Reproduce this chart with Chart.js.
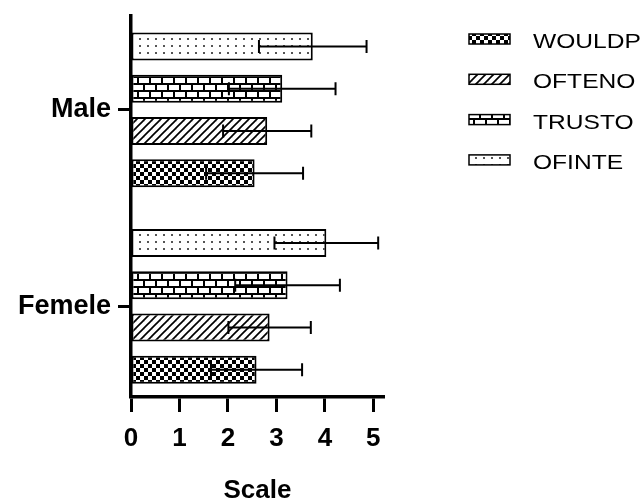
<!DOCTYPE html>
<html>
<head>
<meta charset="utf-8">
<script src="https://cdn.jsdelivr.net/npm/chart.js@4.4.0/dist/chart.umd.min.js"></script>
<style>
  html, body { margin: 0; padding: 0; background: #fff; }
</style>
</head>
<body>
<canvas id="barCanvas" width="644" height="502"></canvas>
<script>
const categories = ['Male', 'Femele'];
const legendOrder = ['WOULDP', 'OFTENO', 'TRUSTO', 'OFINTE'];

const wouldpMeans = [2.55, 2.59];
const wouldpSd = [1.0, 0.94];
const oftenoMeans = [2.81, 2.86];
const oftenoSd = [0.91, 0.85];
const trustoMeans = [3.12, 3.23];
const trustoSd = [1.1, 1.08];
const ofinteMeans = [3.75, 4.03];
const ofinteSd = [1.11, 1.07];

const xTicks = [0, 1, 2, 3, 4, 5];

const axisFont = { family: '"Liberation Sans", Arial, sans-serif', weight: 'bold', size: 26 };
const catFont = { family: '"Liberation Sans", Arial, sans-serif', weight: 'bold', size: 27 };

/**
 * Small tiles used as fill patterns for the bars and legend boxes
 */
function makePattern(kind) {
  const c = document.createElement('canvas');
  let g;
  if (kind === 'checker') {
    c.width = 8; c.height = 8;
    g = c.getContext('2d');
    g.fillStyle = '#fff'; g.fillRect(0, 0, 8, 8);
    g.fillStyle = '#000';
    g.fillRect(0, 0, 4, 4);
    g.fillRect(4, 4, 4, 4);
  } else if (kind === 'diagonal') {
    c.width = 8; c.height = 8;
    g = c.getContext('2d');
    g.fillStyle = '#fff'; g.fillRect(0, 0, 8, 8);
    g.strokeStyle = '#000'; g.lineWidth = 1.7;
    [-8, 0, 8].forEach(o => {
      g.beginPath();
      g.moveTo(o - 1, 9);
      g.lineTo(o + 9, -1);
      g.stroke();
    });
  } else if (kind === 'brick') {
    c.width = 24; c.height = 14;
    g = c.getContext('2d');
    g.fillStyle = '#000'; g.fillRect(0, 0, 24, 14);
    g.fillStyle = '#fff';
    g.fillRect(1, 1, 10, 5);
    g.fillRect(13, 1, 10, 5);
    g.fillRect(0, 8, 5, 5);
    g.fillRect(7, 8, 10, 5);
    g.fillRect(19, 8, 5, 5);
  } else {
    c.width = 8; c.height = 7;
    g = c.getContext('2d');
    g.fillStyle = '#fff'; g.fillRect(0, 0, 8, 7);
    g.fillStyle = '#555';
    g.fillRect(3, 3, 2, 2);
  }
  return g.createPattern(c, 'repeat');
}

const patterns = {
  WOULDP: makePattern('checker'),
  OFTENO: makePattern('diagonal'),
  TRUSTO: makePattern('brick'),
  OFINTE: makePattern('dots'),
};

const seriesMeans = { WOULDP: wouldpMeans, OFTENO: oftenoMeans, TRUSTO: trustoMeans, OFINTE: ofinteMeans };
const seriesSd = { WOULDP: wouldpSd, OFTENO: oftenoSd, TRUSTO: trustoSd, OFINTE: ofinteSd };

/* top bar of each group is the last legend entry */
const datasets = legendOrder.slice().reverse().map(name => ({
  label: name,
  data: seriesMeans[name].map((v, i) => ({ x: v, y: i })),
  sd: seriesSd[name],
  backgroundColor: patterns[name],
  borderColor: '#000',
  borderWidth: 2,
  borderSkipped: false,
  categoryPercentage: 0.86,
  barPercentage: 0.66,
}));

/**
 * Error bars (mean +/- SD) with caps on both ends
 */
const errorBars = {
  id: 'errorBars',
  afterDatasetsDraw(chart) {
    const { ctx } = chart;
    const xScale = chart.scales.x;
    ctx.save();
    ctx.strokeStyle = '#000';
    ctx.lineWidth = 2;
    chart.data.datasets.forEach((ds, di) => {
      chart.getDatasetMeta(di).data.forEach((bar, i) => {
        const mean = ds.data[i].x;
        const sd = ds.sd[i];
        const x1 = xScale.getPixelForValue(mean - sd);
        const x2 = xScale.getPixelForValue(mean + sd);
        const y = bar.y;
        ctx.beginPath();
        ctx.moveTo(x1, y); ctx.lineTo(x2, y);
        ctx.moveTo(x1, y - 6.5); ctx.lineTo(x1, y + 6.5);
        ctx.moveTo(x2, y - 6.5); ctx.lineTo(x2, y + 6.5);
        ctx.stroke();
      });
    });
    ctx.restore();
  },
};

/**
 * Legend on the right, drawn by hand to get the wide text look
 */
const sideLegend = {
  id: 'sideLegend',
  afterDraw(chart) {
    const { ctx } = chart;
    ctx.save();
    legendOrder.forEach((name, i) => {
      const baseY = 48 + i * 40.3;
      ctx.fillStyle = patterns[name];
      ctx.fillRect(469, baseY - 14, 41, 10);
      ctx.strokeStyle = '#000';
      ctx.lineWidth = 1.5;
      ctx.strokeRect(469, baseY - 14, 41, 10);

      ctx.translate(533, baseY);
      ctx.scale(1.17, 1);
      ctx.fillStyle = '#000';
      ctx.font = '21px "Liberation Sans", Arial, sans-serif';
      ctx.textBaseline = 'alphabetic';
      ctx.fillText(name, 0, 0);
      ctx.setTransform(1, 0, 0, 1, 0, 0);
    });
    ctx.restore();
  },
};

const ctx = document.getElementById('barCanvas').getContext('2d');

new Chart(ctx, {
  type: 'bar',
  data: { datasets },
  plugins: [errorBars, sideLegend],
  options: {
    responsive: false,
    animation: false,
    indexAxis: 'y',
    layout: { padding: { top: 16, right: 260, left: 0, bottom: 0 } },
    plugins: {
      legend: { display: false },
      tooltip: { enabled: false },
    },
    scales: {
      x: {
        type: 'linear',
        min: 0,
        max: 5.22,
        afterBuildTicks(scale) {
          scale.ticks = xTicks.map(v => ({ value: v }));
        },
        afterFit(scale) {
          scale.height = 105;
          scale.paddingLeft = 0;
          scale.paddingRight = 0;
        },
        ticks: { font: axisFont, color: '#000', padding: 11 },
        grid: { drawOnChartArea: false, tickLength: 15, tickWidth: 3, tickColor: '#000' },
        border: { color: '#000', width: 3.5 },
        title: { display: true, text: 'Scale', font: axisFont, color: '#000', padding: { top: 0, bottom: -4 } },
        z: 1,
      },
      y: {
        type: 'linear',
        reverse: true,
        offset: false,
        min: -0.478,
        max: 1.461,
        afterBuildTicks(scale) {
          scale.ticks = categories.map((c, i) => ({ value: i }));
        },
        afterFit(scale) {
          scale.width = 131;
          scale.paddingTop = 0;
          scale.paddingBottom = 0;
        },
        ticks: {
          font: catFont,
          color: '#000',
          padding: 7,
          callback: v => categories[v],
        },
        grid: { offset: false, drawOnChartArea: false, tickLength: 13, tickWidth: 3, tickColor: '#000' },
        border: { color: '#000', width: 3.5 },
        z: 1,
      },
    },
  },
});
</script>
</body>
</html>
